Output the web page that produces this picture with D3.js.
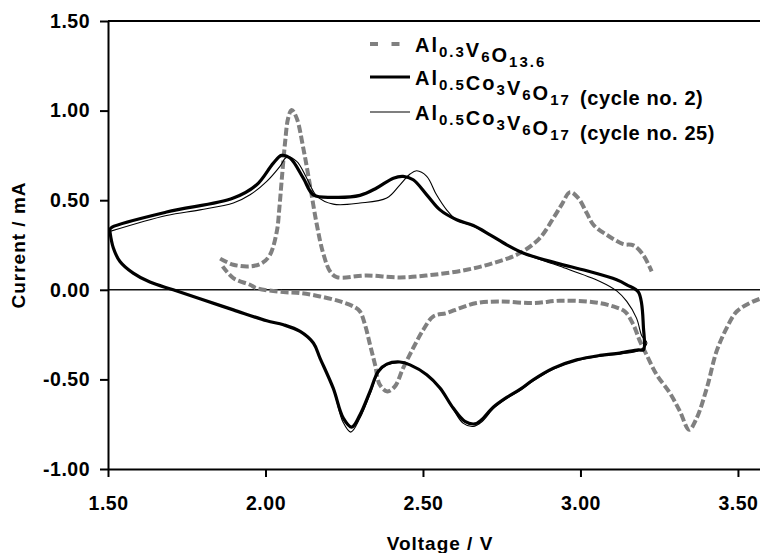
<!DOCTYPE html>
<html>
<head>
<meta charset="utf-8">
<script src="https://cdn.jsdelivr.net/npm/d3@7"></script>
<style>
  body { margin: 0; background: #fff; }
  text { font-family: "Liberation Sans", Arial, sans-serif; font-weight: bold; fill: #000; }
  .tick text { font-size: 19.5px; letter-spacing: 0.5px; }
  .title { font-size: 19px; letter-spacing: 1px; }
  .legend { font-size: 20px; letter-spacing: 2px; white-space: pre; }
  .legend .note { letter-spacing: 0.6px; }
</style>
</head>
<body>
<script>
'use strict';

// axis ticks
const voltageTicks = [1.5, 2.0, 2.5, 3.0, 3.5];
const currentTicks = [-1.0, -0.5, 0.0, 0.5, 1.0, 1.5];

// Al0.3V6O13.6 anodic sweep [voltage V, current mA]
const alvoAnodic = [
  [1.856, 0.174], [1.898, 0.140], [1.951, 0.131], [1.989, 0.149], [2.014, 0.194],
  [2.036, 0.326], [2.044, 0.456], [2.052, 0.623], [2.062, 0.819], [2.072, 0.958],
  [2.083, 1.004], [2.099, 0.958], [2.120, 0.791], [2.141, 0.586], [2.163, 0.363],
  [2.183, 0.205], [2.205, 0.103], [2.226, 0.071], [2.321, 0.080], [2.427, 0.069],
  [2.533, 0.084], [2.639, 0.112], [2.723, 0.149], [2.808, 0.205], [2.871, 0.289],
  [2.914, 0.400], [2.940, 0.474], [2.967, 0.545], [2.993, 0.512], [3.020, 0.428],
  [3.041, 0.363], [3.083, 0.307], [3.136, 0.255], [3.168, 0.248], [3.199, 0.195],
  [3.226, 0.103]
];

// Al0.3V6O13.6 cathodic sweep, starts past the right edge
const alvoCathodic = [
  [3.602, -0.035], [3.570, -0.050], [3.538, -0.074], [3.496, -0.121], [3.464, -0.214],
  [3.432, -0.344], [3.401, -0.549], [3.369, -0.716], [3.345, -0.781], [3.316, -0.679],
  [3.284, -0.576], [3.242, -0.474], [3.210, -0.363], [3.189, -0.288], [3.168, -0.195],
  [3.141, -0.121], [3.104, -0.093], [3.041, -0.069], [2.935, -0.061], [2.850, -0.074],
  [2.744, -0.065], [2.670, -0.074], [2.617, -0.102], [2.575, -0.130], [2.533, -0.148],
  [2.501, -0.223], [2.469, -0.325], [2.437, -0.437], [2.411, -0.539], [2.387, -0.567],
  [2.363, -0.530], [2.348, -0.419], [2.332, -0.307], [2.316, -0.195], [2.300, -0.121],
  [2.279, -0.093], [2.237, -0.065], [2.173, -0.037], [2.110, -0.018], [2.057, -0.013],
  [1.972, 0.009], [1.951, 0.028], [1.898, 0.065], [1.864, 0.131]
];

// Al0.5Co3V6O17 cycle no. 2 (closed loop)
const alcovoCycle2 = [
  [1.506, 0.338], [1.513, 0.350], [1.686, 0.434], [1.898, 0.512], [1.972, 0.586],
  [2.025, 0.707], [2.051, 0.750], [2.078, 0.735], [2.120, 0.623], [2.152, 0.530],
  [2.215, 0.516], [2.300, 0.527], [2.353, 0.568], [2.406, 0.623], [2.437, 0.633],
  [2.469, 0.614], [2.512, 0.530], [2.554, 0.446], [2.607, 0.391], [2.660, 0.359],
  [2.713, 0.307], [2.766, 0.251], [2.818, 0.205], [2.924, 0.149], [3.020, 0.106],
  [3.115, 0.056], [3.147, 0.028], [3.184, -0.013], [3.200, -0.214], [3.200, -0.335],
  [3.184, -0.335], [3.125, -0.353], [3.062, -0.366], [2.988, -0.391], [2.914, -0.437],
  [2.850, -0.502], [2.808, -0.556], [2.766, -0.600], [2.723, -0.655], [2.686, -0.725],
  [2.665, -0.748], [2.633, -0.734], [2.596, -0.660], [2.554, -0.548], [2.512, -0.474],
  [2.459, -0.419], [2.427, -0.403], [2.385, -0.415], [2.358, -0.455], [2.332, -0.567],
  [2.300, -0.698], [2.274, -0.766], [2.247, -0.716], [2.215, -0.549], [2.173, -0.381],
  [2.152, -0.297], [2.110, -0.232], [2.057, -0.195], [2.004, -0.173], [1.898, -0.112],
  [1.792, -0.050], [1.707, 0.000], [1.633, 0.043], [1.580, 0.093], [1.538, 0.158],
  [1.517, 0.233], [1.506, 0.326]
];

// Al0.5Co3V6O17 cycle no. 25
const alcovoCycle25 = [
  [1.506, 0.326], [1.686, 0.415], [1.792, 0.446], [1.898, 0.484], [1.951, 0.530],
  [2.004, 0.605], [2.046, 0.689], [2.067, 0.739], [2.099, 0.717], [2.131, 0.623],
  [2.163, 0.523], [2.215, 0.478], [2.300, 0.484], [2.385, 0.512], [2.427, 0.586],
  [2.459, 0.646], [2.480, 0.664], [2.512, 0.633], [2.543, 0.530], [2.575, 0.446],
  [2.607, 0.389], [2.660, 0.355], [2.713, 0.305], [2.766, 0.249], [2.818, 0.202],
  [2.935, 0.131], [3.062, 0.047], [3.115, -0.006], [3.147, -0.065], [3.178, -0.158],
  [3.195, -0.258], [3.211, -0.297], [3.187, -0.339], [3.125, -0.358], [3.062, -0.370],
  [2.988, -0.395], [2.914, -0.443], [2.850, -0.509], [2.808, -0.562], [2.766, -0.606],
  [2.723, -0.664], [2.686, -0.738], [2.659, -0.763], [2.627, -0.744], [2.596, -0.666],
  [2.554, -0.551], [2.512, -0.476], [2.459, -0.420], [2.427, -0.405], [2.385, -0.420],
  [2.358, -0.465], [2.332, -0.582], [2.300, -0.716], [2.271, -0.794], [2.246, -0.738],
  [2.215, -0.554], [2.173, -0.384], [2.152, -0.300], [2.110, -0.234], [2.057, -0.196],
  [2.004, -0.174], [1.898, -0.113], [1.792, -0.051], [1.707, 0.000], [1.633, 0.043],
  [1.580, 0.093], [1.538, 0.158], [1.517, 0.233], [1.506, 0.320]
];

// legend rows, each piece is [text, subscript]
const legendAlvo = [['Al', '0.3'], ['V', '6'], ['O', '13.6']];
const legendCycle2 = [['Al', '0.5'], ['Co', '3'], ['V', '6'], ['O', '17']];
const legendCycle25 = [['Al', '0.5'], ['Co', '3'], ['V', '6'], ['O', '17']];
const legendNotes = ['', ' (cycle no. 2)', ' (cycle no. 25)'];

(function() {

  let svgContainer = ""; // keep SVG reference in global scope

  window.onload = function() {
    svgContainer = d3.select('body')
      .append('svg')
      .attr('width', 760)
      .attr('height', 553);

    let mapFunctions = drawAxes();
    plotData(mapFunctions);
    makeLabels();
    makeLegend();
  }

  // draw the axes, frame and zero line
  function drawAxes() {
    let xScale = d3.scaleLinear()
      .domain([1.5, 3.57])
      .range([108, 760]);

    let yScale = d3.scaleLinear()
      .domain([-1.0, 1.5])
      .range([469, 21]);

    let fmt = (d) => d.toFixed(2);

    // zero line
    svgContainer.append('line')
      .attr('x1', xScale(1.5))
      .attr('x2', xScale(3.57))
      .attr('y1', yScale(0))
      .attr('y2', yScale(0))
      .attr('stroke', '#111')
      .attr('stroke-width', 1.5);

    // top frame line
    svgContainer.append('line')
      .attr('x1', xScale(1.5))
      .attr('x2', xScale(3.57))
      .attr('y1', yScale(1.5))
      .attr('y2', yScale(1.5))
      .attr('stroke', '#000')
      .attr('stroke-width', 2);

    let xAxis = d3.axisBottom(xScale)
      .tickValues(voltageTicks)
      .tickSize(8)
      .tickSizeOuter(0)
      .tickPadding(19)
      .tickFormat(fmt);
    let gx = svgContainer.append('g')
      .attr('transform', 'translate(0, ' + yScale(-1.0) + ')')
      .call(xAxis);

    let yAxis = d3.axisLeft(yScale)
      .tickValues(currentTicks)
      .tickSize(8)
      .tickSizeOuter(0)
      .tickPadding(10)
      .tickFormat(fmt);
    let gy = svgContainer.append('g')
      .attr('transform', 'translate(' + xScale(1.5) + ', 0)')
      .call(yAxis);

    [gx, gy].forEach((g) => {
      g.select('.domain').attr('stroke', '#000').attr('stroke-width', 2);
      g.selectAll('.tick line').attr('stroke', '#000').attr('stroke-width', 2);
    });

    return { xScale: xScale, yScale: yScale };
  }

  // plot the three voltammograms
  function plotData(map) {
    let xScale = map.xScale;
    let yScale = map.yScale;

    svgContainer.append('clipPath')
      .attr('id', 'plot-clip')
      .append('rect')
      .attr('x', xScale(1.5))
      .attr('y', yScale(1.5))
      .attr('width', xScale(3.57) - xScale(1.5))
      .attr('height', yScale(-1.0) - yScale(1.5));

    let line = d3.line()
      .x((d) => xScale(d[0]))
      .y((d) => yScale(d[1]))
      .curve(d3.curveCatmullRom.alpha(0.5));

    let plot = svgContainer.append('g').attr('clip-path', 'url(#plot-clip)');

    // gray dashed curve, two sweeps
    [alvoAnodic, alvoCathodic].forEach((sweep) => {
      plot.append('path')
        .datum(sweep)
        .attr('fill', 'none')
        .attr('stroke', '#808080')
        .attr('stroke-width', 4)
        .attr('stroke-dasharray', '8,3')
        .attr('d', line);
    });

    // thin line, cycle 25
    plot.append('path')
      .datum(alcovoCycle25)
      .attr('fill', 'none')
      .attr('stroke', '#000')
      .attr('stroke-width', 1.1)
      .attr('stroke-linejoin', 'round')
      .attr('d', line);

    // thick line, cycle 2
    plot.append('path')
      .datum(alcovoCycle2)
      .attr('fill', 'none')
      .attr('stroke', '#000')
      .attr('stroke-width', 3.2)
      .attr('stroke-linejoin', 'round')
      .attr('stroke-linecap', 'round')
      .attr('d', line);
  }

  // axes titles
  function makeLabels() {
    svgContainer.append('text')
      .attr('class', 'title')
      .attr('x', 440)
      .attr('y', 550)
      .attr('text-anchor', 'middle')
      .text('Voltage / V');

    svgContainer.append('text')
      .attr('class', 'title')
      .attr('transform', 'translate(25, 245)rotate(-90)')
      .attr('text-anchor', 'middle')
      .text('Current / mA');
  }

  // legend with chemical formulas
  function makeLegend() {
    let rows = [
      { parts: legendAlvo, y: 52, stroke: '#808080', width: 4, dash: '8,13.5' },
      { parts: legendCycle2, y: 85, stroke: '#000', width: 3.2, dash: null },
      { parts: legendCycle25, y: 120, stroke: '#000', width: 1.1, dash: null }
    ];

    rows.forEach((row, i) => {
      svgContainer.append('line')
        .attr('x1', 370)
        .attr('x2', 410)
        .attr('y1', row.y - 8)
        .attr('y2', row.y - 8)
        .attr('stroke', row.stroke)
        .attr('stroke-width', row.width)
        .attr('stroke-dasharray', row.dash);

      let text = svgContainer.append('text')
        .attr('class', 'legend')
        .attr('x', 415)
        .attr('y', row.y);

      row.parts.forEach((p) => {
        text.append('tspan').text(p[0]);
        text.append('tspan')
          .attr('dy', 5)
          .style('font-size', '15px')
          .text(p[1]);
        text.append('tspan').attr('dy', -5).text('');
      });

      if (legendNotes[i] !== '') {
        text.append('tspan')
          .attr('class', 'note')
          .attr('dx', 3)
          .text(legendNotes[i]);
      }
    });
  }

})();
</script>
</body>
</html>
